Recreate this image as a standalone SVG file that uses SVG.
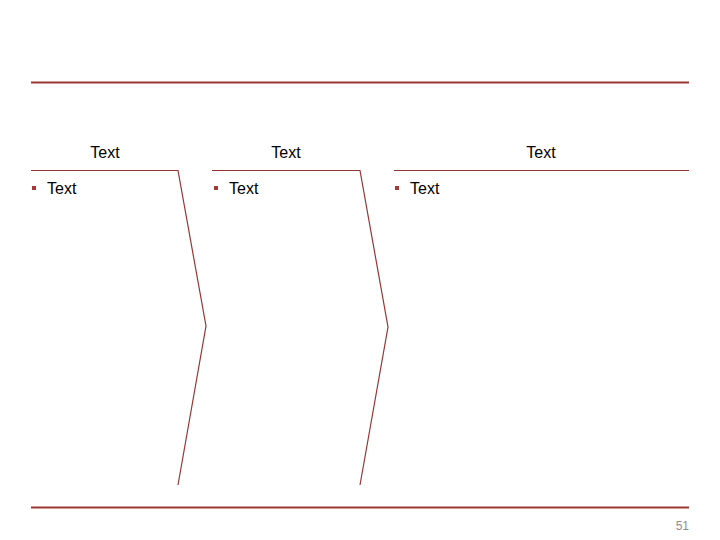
<svg xmlns="http://www.w3.org/2000/svg" width="720" height="540" viewBox="0 0 720 540">
<style>
.rule{stroke:#9e3535;stroke-width:2.2;fill:none}
.thin{stroke:#963535;stroke-width:1.2;fill:none}
.hd{font-family:"Liberation Sans",Arial,sans-serif;font-size:16px;fill:#000;text-anchor:middle}
.bt{font-family:"Liberation Sans",Arial,sans-serif;font-size:16px;fill:#000}
.bl{fill:#a33a3a}
.pg{font-family:"Liberation Sans",Arial,sans-serif;font-size:12px;fill:#8c8c8c;text-anchor:end}
</style>
<rect width="720" height="540" fill="#fff"/>
<line class="rule" x1="31" y1="82.5" x2="689" y2="82.5"/>
<line class="rule" x1="31" y1="507.5" x2="689" y2="507.5"/>
<g id="connectors">
<polyline class="thin" points="31,170.5 178,170.5 206,326 178,485"/>
<polyline class="thin" points="212,170.5 360,170.5 388,327 360,485"/>
<polyline class="thin" points="394,170.5 689,170.5"/>
</g>
<g id="node1">
<text class="hd" x="105" y="158">Text</text>
<rect class="bl" x="32" y="186" width="4" height="4"/>
<text class="bt" x="47" y="194">Text</text>
</g>
<g id="node2">
<text class="hd" x="286" y="158">Text</text>
<rect class="bl" x="214" y="186" width="4" height="4"/>
<text class="bt" x="229" y="194">Text</text>
</g>
<g id="node3">
<text class="hd" x="541" y="158">Text</text>
<rect class="bl" x="395" y="186" width="4" height="4"/>
<text class="bt" x="410" y="194">Text</text>
</g>
<text class="pg" x="689" y="530">51</text>
</svg>
